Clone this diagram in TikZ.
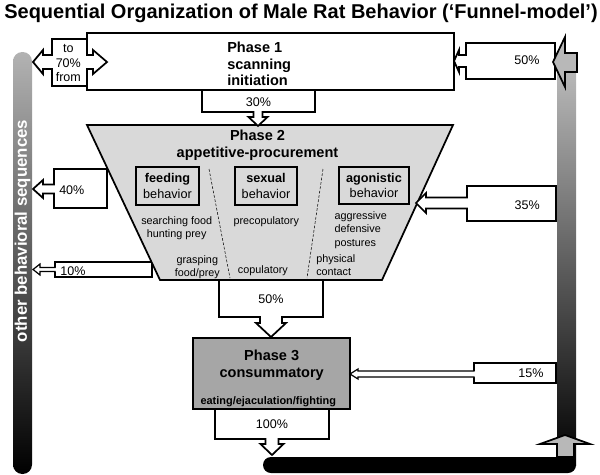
\documentclass[tikz,border=0pt]{standalone}
\usepackage{fontspec}
\setmainfont{Liberation Sans}
\usetikzlibrary{calc}
\def\px{0.75pt}
% horizontal block arrow: #1 style, #2 tip, #3 base anchor, #4 head length (signed), #5 head half, #6 shaft half, #7 fill overlap
\newcommand\harr[7]{%
  \fill[white] ($(#2 -| #3)+(#7,-#6)$) -- ($(#2)+(#4,-#6)$) -- ($(#2)+(#4,-#5)$) -- (#2) -- ($(#2)+(#4,#5)$) -- ($(#2)+(#4,#6)$) -- ($(#2 -| #3)+(#7,#6)$) -- cycle;
  \draw[#1] ($(#2 -| #3)+(0,-#6)$) -- ($(#2)+(#4,-#6)$) -- ($(#2)+(#4,-#5)$) -- (#2) -- ($(#2)+(#4,#5)$) -- ($(#2)+(#4,#6)$) -- ($(#2 -| #3)+(0,#6)$);}
% vertical block arrow
\newcommand\varr[7]{%
  \fill[white] ($(#2 |- #3)+(-#6,#7)$) -- ($(#2)+(-#6,#4)$) -- ($(#2)+(-#5,#4)$) -- (#2) -- ($(#2)+(#5,#4)$) -- ($(#2)+(#6,#4)$) -- ($(#2 |- #3)+(#6,#7)$) -- cycle;
  \draw[#1] ($(#2 |- #3)+(-#6,0)$) -- ($(#2)+(-#6,#4)$) -- ($(#2)+(-#5,#4)$) -- (#2) -- ($(#2)+(#5,#4)$) -- ($(#2)+(#6,#4)$) -- ($(#2 |- #3)+(#6,0)$);}
\begin{document}
\begin{tikzpicture}[x=0.75pt,y=-0.75pt,
  bx/.style={draw=black,line width=1.3pt,fill=white,inner sep=0pt,outer sep=0pt},
  ln/.style={line width=1.3pt,line join=miter},
  arrw/.style={line width=1.3pt,line join=miter,line cap=rect},
  arrthin/.style={line width=0.9pt,line join=miter,line cap=rect},
  beh/.style={draw=black,line width=1.1pt,inner sep=0pt,outer sep=0pt,align=center,font=\fontsize{9.5}{11.3}\selectfont},
  phase/.style={inner sep=0pt,align=center,font=\bfseries\fontsize{10.9}{12.5}\selectfont},
  sm/.style={inner sep=0pt,font=\fontsize{8.1}{9.9}\selectfont},
  pct/.style={inner sep=0pt,align=center,font=\fontsize{9.4}{11}\selectfont},
  dsh/.style={line width=0.4pt,dash pattern=on 2pt off 1.3pt}]
\useasboundingbox (0,0) rectangle (600,475);

% title
\node[anchor=base,inner sep=0pt,font=\bfseries\fontsize{15}{18}\selectfont] (title) at (301,18.5) {Sequential Organization of Male Rat Behavior (‘Funnel-model’)};

% side bars
\shade[top color=black!30,bottom color=black,rounded corners=7pt] (13,52) rectangle (32,474);
\node[rotate=90,text=white,inner sep=0pt,font=\bfseries\fontsize{12.6}{15}\selectfont] (side) at (22.5,231) {other behavioral sequences};
\shade[top color=black!26,bottom color=black] (557,62) rectangle (576,465);
\fill[black,rounded corners=6pt] (263,457) rectangle (576,473);

% boxes
\node[bx,minimum width=367*\px,minimum height=57*\px] (p1) at (270.5,61.5) {};
\node[bx,minimum width=35*\px,minimum height=47*\px] (b70) at (69.5,62.5) {};
\node[bx,minimum width=113*\px,minimum height=22*\px] (b30) at (258.5,101) {};
\node[bx,minimum width=89*\px,minimum height=36*\px] (b50a) at (510.5,61) {};
\node[bx,minimum width=53*\px,minimum height=39*\px] (b40) at (80.5,188.5) {};
\node[bx,minimum width=97*\px,minimum height=15*\px] (b10) at (103.5,269.5) {};
\coordinate (q1) at (87,125);
\coordinate (q2) at (453,125);
\coordinate (q3) at (382,280);
\coordinate (q4) at (160,280);
\draw[ln,fill=black!15] (q1) -- (q2) -- (q3) -- (q4) -- cycle;
\node[bx,minimum width=89*\px,minimum height=35*\px] (b35) at (511.5,203.5) {};
\node[bx,minimum width=104*\px,minimum height=37*\px] (b50b) at (271,298.5) {};
\node[bx,minimum width=114*\px,minimum height=30*\px] (b100) at (272,424) {};
\node[bx,fill=black!35,minimum width=157*\px,minimum height=71*\px] (p3) at (271.5,373.5) {};
\node[bx,minimum width=82*\px,minimum height=20*\px] (b15) at (515,373) {};

% behavior boxes
\node[beh,minimum width=63*\px,minimum height=38*\px] (feed) at (167.5,186) {\textbf{feeding}\\behavior};
\node[beh,minimum width=62*\px,minimum height=38*\px] (sex) at (266,186) {\textbf{sexual}\\behavior};
\node[beh,minimum width=70*\px,minimum height=37*\px] (agon) at (374,185.5) {\textbf{agonistic}\\behavior};
\coordinate (d1a) at (209,169);
\coordinate (d1b) at (230,278);
\coordinate (d2a) at (323,169);
\coordinate (d2b) at (307,278);
\draw[dsh] (d1a) -- (d1b);
\draw[dsh] (d2a) -- (d2b);

% gray arrows
\coordinate (gt) at (553,62);
\draw[ln,fill=black!28] (gt) -- ++(12,-25) -- ++(0,16) -- ++(12,0) -- ++(0,19) -- ++(-12,0) -- ++(0,15) -- cycle;
\coordinate (ut) at (565,435);
\draw[ln,fill=black!28] (ut) -- ++(25,9) -- ++(-16,0) -- ++(0,13) -- ++(-17,0) -- ++(0,-13) -- ++(-17,0) -- cycle;

% block arrows
\coordinate (tl) at (33,62);
\coordinate (tr) at (107,62);
\coordinate (t50a) at (454,61);
\coordinate (t40) at (33,189);
\coordinate (t10) at (33,269.5);
\coordinate (t35) at (416,203);
\coordinate (t15) at (350,374);
\coordinate (t30) at (258,126);
\coordinate (t50b) at (271,337);
\coordinate (t100) at (272,455);
\harr{arrw}{tl}{b70.west}{10}{12}{7}{1}
\harr{arrw}{tr}{b70.east}{-14}{12}{7}{-1}
\harr{arrw}{t50a}{b50a.west}{5}{11}{6}{1}
\harr{arrw}{t40}{b40.west}{10}{9}{4.5}{1}
\harr{arrthin}{t10}{b10.west}{7}{5.5}{2}{1}
\harr{arrw}{t35}{b35.west}{10}{10}{5.5}{1}
\harr{arrthin}{t15}{b15.west}{8}{5}{3}{1}
\varr{arrw}{t30}{b30.south}{-9}{9.5}{4.5}{-1}
\varr{arrw}{t50b}{b50b.south}{-14}{15}{11}{-1}
\varr{arrw}{t100}{b100.south}{-11}{11.5}{6.5}{-1}

% texts
\node[phase,anchor=north west,align=left] (l1) at (227,41.7) {Phase 1\\scanning\\initiation};
\node[phase,anchor=north] (l2) at (257.5,130) {Phase 2\\appetitive-procurement};
\node[phase,anchor=north] (l3) at (271.7,350) {Phase 3\\consummatory};
\node[anchor=north,inner sep=0pt,font=\bfseries\fontsize{8.2}{10}\selectfont] (l3b) at (268.3,396.7) {eating/ejaculation/fighting};

\node[sm,anchor=north,align=center] (s1) at (176.7,216.7) {searching food\\hunting prey};
\node[sm,anchor=north west] (s2) at (233.3,216.7) {precopulatory};
\node[sm,anchor=north west,align=left] (s3) at (334.3,211.7) {aggressive\\defensive\\postures};
\node[sm,anchor=north,align=center] (s4) at (197.3,255) {grasping\\food/prey};
\node[sm,anchor=north west] (s5) at (237.7,265) {copulatory};
\node[sm,anchor=north west,align=left] (s6) at (316,254) {physical\\contact};

\node[pct] (x70) at (68.3,63.3) {to\\70\%\\from};
\node[pct] (x30) at (258.5,102.5) {30\%};
\node[pct] (x50a) at (527,60) {50\%};
\node[pct] (x40) at (71.8,190) {40\%};
\node[pct] (x10) at (73,271.3) {10\%};
\node[pct] (x35) at (527.2,204.7) {35\%};
\node[pct] (x50b) at (271,299) {50\%};
\node[pct] (x100) at (272,423.8) {100\%};
\node[pct] (x15) at (531,373) {15\%};
\end{tikzpicture}
\end{document}
